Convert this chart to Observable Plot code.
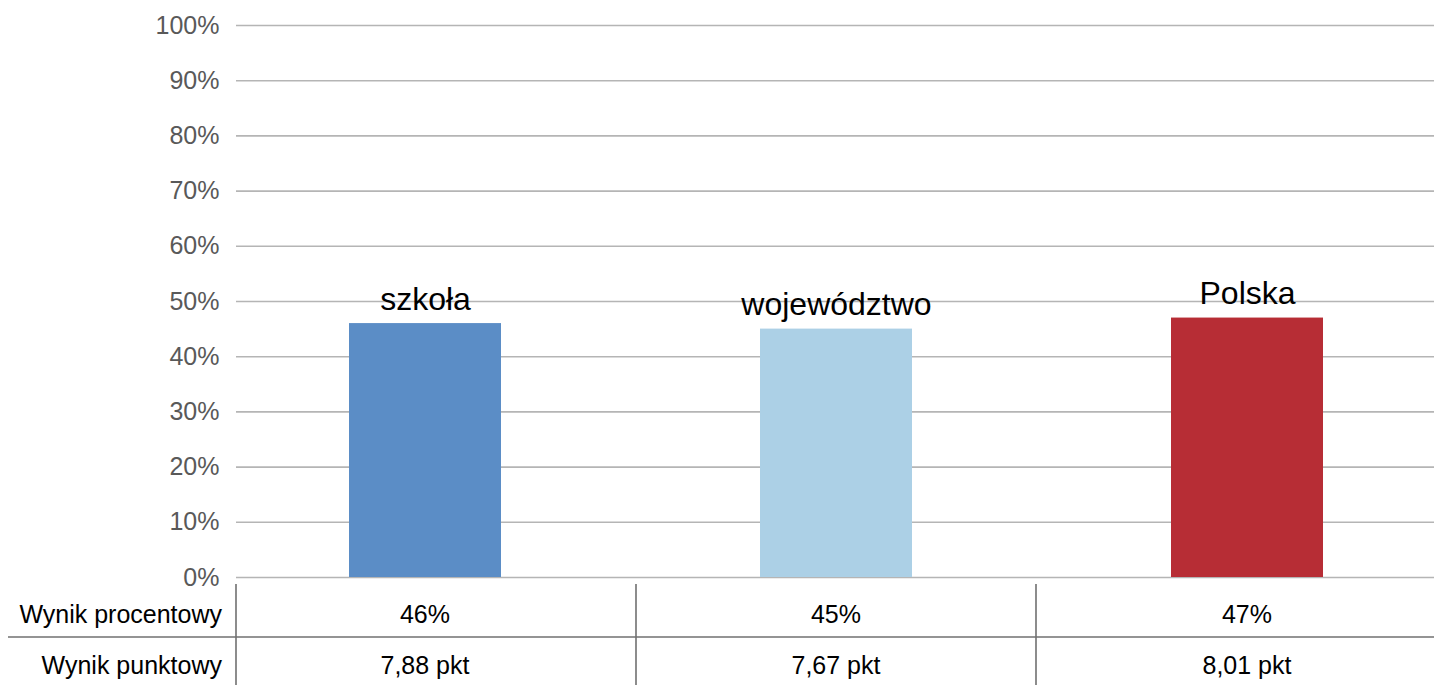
<!DOCTYPE html>
<html>
<head>
<meta charset="utf-8">
<script src="https://cdn.jsdelivr.net/npm/d3@7"></script>
<script src="https://cdn.jsdelivr.net/npm/@observablehq/plot@0.6"></script>
<style>
  html, body { margin: 0; padding: 0; background: white; }
  #wrap { position: relative; width: 1434px; height: 685px; font-family: "Liberation Sans", Arial, sans-serif; }
  #wrap svg { display: block; }
  #tbl { position: absolute; left: 0; top: 580px; }
</style>
</head>
<body>
<div id="wrap"></div>
<script>
const categories = ["szkoła", "województwo", "Polska"];
const percentValues = [46, 45, 47];
const pointValues = ["7,88", "7,67", "8,01"];
const barColors = ["#5b8dc6", "#acd0e6", "#b72d35"];
const yTicks = [0, 10, 20, 30, 40, 50, 60, 70, 80, 90, 100];
const rowLabels = ["Wynik procentowy", "Wynik punktowy"];

const data = categories.map((c, i) => ({cat: c, value: percentValues[i]}));

const chart = Plot.plot({
  width: 1434,
  height: 592,
  marginTop: 25,
  marginBottom: 15,
  marginLeft: 236,
  marginRight: 0,
  style: {fontFamily: "'Liberation Sans', Arial, sans-serif", background: "white"},
  x: {domain: categories, range: [219.5, 1452.5], paddingInner: 0.63, paddingOuter: 0.315, axis: null},
  y: {domain: [0, 100], axis: null},
  color: {domain: categories, range: barColors},
  marks: [
    Plot.gridY(yTicks, {stroke: "#b5b5b5", strokeOpacity: 1, strokeWidth: 1.6}),
    Plot.axisY(yTicks, {tickFormat: d => d + "%", tickSize: 0, tickPadding: 17, fontSize: 25, fill: "#595959", label: null}),
    Plot.barY(data, {x: "cat", y: "value", fill: "cat"}),
    Plot.text(data, {x: "cat", y: "value", text: "cat", dy: -14, lineAnchor: "bottom", fontSize: 32, fill: "#000"})
  ]
});

const wrap = document.getElementById("wrap");
wrap.appendChild(chart);

// data table below the chart
const xs = chart.scale("x");
const centers = categories.map(c => xs.apply(c) + xs.bandwidth / 2);

const tbl = d3.create("svg")
  .attr("id", "tbl")
  .attr("width", 1434)
  .attr("height", 105)
  .style("font-family", "'Liberation Sans', Arial, sans-serif");

const lineColor = "#707070";
[236, 636, 1036].forEach(x => {
  tbl.append("line").attr("x1", x).attr("x2", x).attr("y1", 4).attr("y2", 105)
    .attr("stroke", lineColor).attr("stroke-width", 1.6);
});
tbl.append("line").attr("x1", 8).attr("x2", 1434).attr("y1", 57).attr("y2", 57)
  .attr("stroke", lineColor).attr("stroke-width", 1.6);

const rowBaselines = [43, 94];
rowLabels.forEach((t, r) => {
  tbl.append("text").attr("x", 222).attr("y", rowBaselines[r]).attr("text-anchor", "end")
    .attr("font-size", 25).attr("fill", "#000").text(t);
});
categories.forEach((c, i) => {
  tbl.append("text").attr("x", centers[i]).attr("y", rowBaselines[0]).attr("text-anchor", "middle")
    .attr("font-size", 25).attr("fill", "#000").text(percentValues[i] + "%");
  tbl.append("text").attr("x", centers[i]).attr("y", rowBaselines[1]).attr("text-anchor", "middle")
    .attr("font-size", 25).attr("fill", "#000").text(pointValues[i] + " pkt");
});
wrap.appendChild(tbl.node());
</script>
</body>
</html>
